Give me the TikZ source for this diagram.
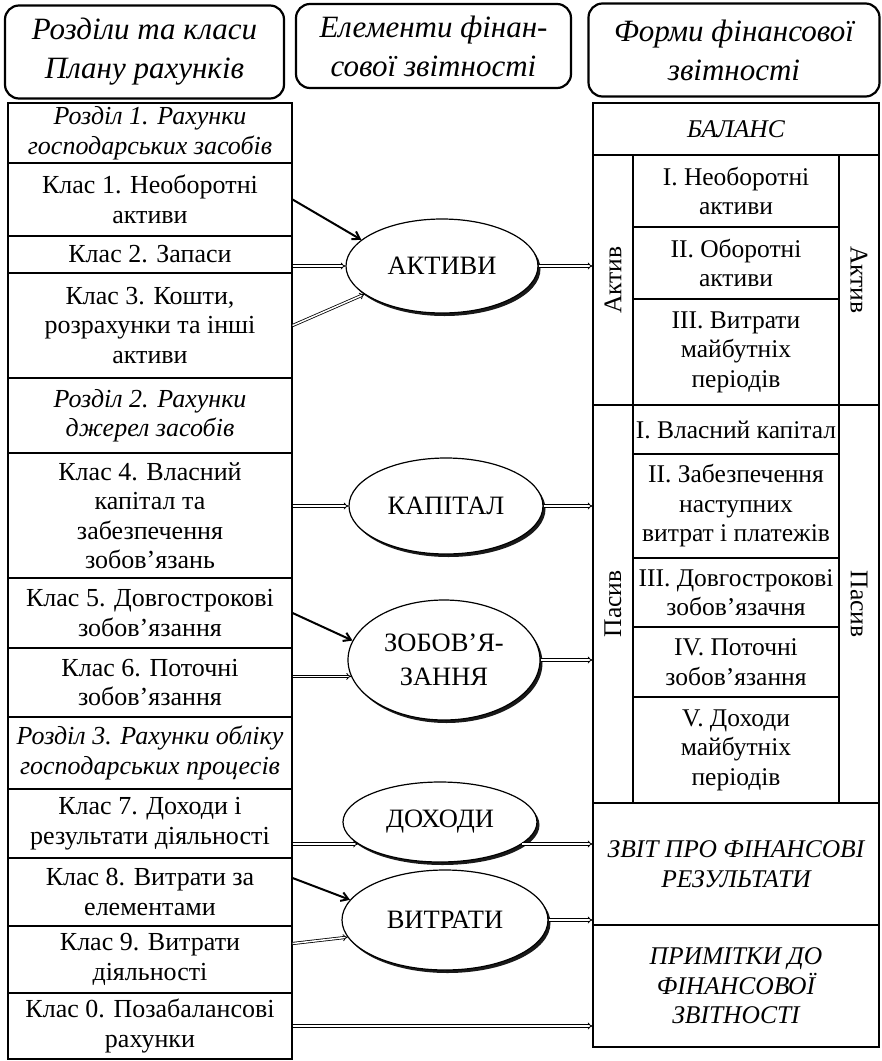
\documentclass[tikz,border=0pt]{standalone}
\usepackage{fontspec}
\setmainfont{Liberation Serif}
\usetikzlibrary{arrows.meta,shadows,shapes.geometric}
\newcommand\bodyfs{\fontsize{26}{29.5}\selectfont}
\newcommand\rightfs{\fontsize{25.5}{29.5}\selectfont}
\newcommand\headfs{\fontsize{31}{39}\selectfont\itshape}
\newcommand\ellfs{\fontsize{26.5}{34}\selectfont}
\tikzset{
  wh/.style 2 args={minimum width=#1pt, minimum height=#2pt},
  cell/.style={draw, line width=1.2pt, align=center, inner sep=0pt, font=\bodyfs},
  icell/.style={cell, font=\bodyfs\itshape},
  rcell/.style={cell, font=\rightfs},
  ricell/.style={cell, font=\rightfs\itshape},
  head/.style={draw, line width=2.2pt, rounded corners=14pt, align=center, font=\headfs, inner sep=0pt},
  elem/.style={ellipse, draw, line width=1.2pt, fill=white, font=\ellfs, inner sep=0pt, align=center,
    drop shadow={shadow xshift=2.5pt, shadow yshift=-3pt, fill=black, opacity=0.9}},
  dbl/.style={double, double distance=1.5pt, line width=0.8pt, -{Implies}},
  thk/.style={line width=2pt, -{Straight Barb[length=7pt,width=9pt]}},
  side/.style={font=\rightfs, inner sep=0pt},
}
\begin{document}
\begin{tikzpicture}[x=1pt, y=-1pt]
\useasboundingbox (0,0) rectangle (882,1061);
% headers
\node[head, wh={279}{93}] (h1) at (144.5,52) {Розділи та класи\\Плану рахунків};
\node[head, wh={275}{84}] (h2) at (433.5,46) {Елементи фінан-\\сової звітності};
\node[head, wh={291}{93}] (h3) at (734,50) {Форми фінансової\\звітності};
% left column
\node[icell, wh={284}{60}]  (r1)  at (150,133)    {Розділ 1. Рахунки\\господарських засобів};
\node[cell,  wh={284}{73}]  (r2)  at (150,199.5)  {Клас 1. Необоротні\\активи};
\node[cell,  wh={284}{37}]  (r3)  at (150,254.5)  {Клас 2. Запаси};
\node[cell,  wh={284}{105}] (r4)  at (150,325.5)  {Клас 3. Кошти,\\розрахунки та інші\\активи};
\node[icell, wh={284}{75}]  (r5)  at (150,415.5)  {Розділ 2. Рахунки\\джерел засобів};
\node[cell,  wh={284}{125}] (r6)  at (150,515.5)  {Клас 4. Власний\\капітал та\\забезпечення\\зобов’язань};
\node[cell,  wh={284}{70}]  (r7)  at (150,613)    {Клас 5. Довгострокові\\зобов’язання};
\node[cell,  wh={284}{69}]  (r8)  at (150,682.5)  {Клас 6. Поточні\\зобов’язання};
\node[icell, wh={284}{72}]  (r9)  at (150,753)    {Розділ 3. Рахунки обліку\\господарських процесів};
\node[cell,  wh={284}{69}]  (r10) at (150,823.5)  {Клас 7. Доходи і\\результати діяльності};
\node[cell,  wh={284}{68}]  (r11) at (150,892)    {Клас 8. Витрати за\\елементами};
\node[cell,  wh={284}{67}]  (r12) at (150,959.5)  {Клас 9. Витрати\\діяльності};
\node[cell,  wh={284}{66}]  (r13) at (150,1026)   {Клас 0. Позабалансові\\рахунки};
% right column
\node[ricell, wh={286}{52}]  (bal) at (736,129) {БАЛАНС};
\node[cell, wh={40}{250}] (aL) at (613,280) {};
\node[cell, wh={40}{250}] (aR) at (859,280) {};
\node[side, rotate=90]  (aLt) at (aL) {Актив};
\node[side, rotate=-90] (aRt) at (aR) {Актив};
\node[rcell, wh={206}{72}]  (a1) at (736,191) {I. Необоротні\\активи};
\node[rcell, wh={206}{72}]  (a2) at (736,263) {II. Оборотні\\активи};
\node[rcell, wh={206}{106}] (a3) at (736,352) {III. Витрати\\майбутніх\\періодів};
\node[cell, wh={40}{398}] (pL) at (613,604) {};
\node[cell, wh={40}{398}] (pR) at (859,604) {};
\node[side, rotate=90]  (pLt) at (pL) {Пасив};
\node[side, rotate=-90] (pRt) at (pR) {Пасив};
\node[rcell, wh={206}{49}]  (p1) at (736,429.5) {I. Власний капітал};
\node[rcell, wh={206}{104}] (p2) at (736,506) {II. Забезпечення\\наступних\\витрат і платежів};
\node[rcell, wh={206}{69}]  (p3) at (736,592.5) {III. Довгострокові\\зобов’язачня};
\node[rcell, wh={206}{70}]  (p4) at (736,662) {IV. Поточні\\зобов’язання};
\node[rcell, wh={206}{106}] (p5) at (736,750) {V. Доходи\\майбутніх\\періодів};
\node[ricell, wh={286}{122}] (zvit) at (736,864) {ЗВІТ ПРО ФІНАНСОВІ\\РЕЗУЛЬТАТИ};
\node[ricell, wh={286}{122}] (prim) at (736,986) {ПРИМІТКИ ДО\\ФІНАНСОВОЇ\\ЗВІТНОСТІ};
% elements
\node[elem, wh={192}{94}]  (akt) at (442,266) {АКТИВИ};
\node[elem, wh={194}{96}]  (kap) at (446,506) {КАПІТАЛ};
\node[elem, wh={192}{120}] (zob) at (444,660) {ЗОБОВ’Я-\\ЗАННЯ};
\node[elem, wh={194}{80}]  (dox) at (440,822) {ДОХОДИ};
\node[elem, wh={206}{100}] (vit) at (445,920) {ВИТРАТИ};
% connectors
\draw[thk] (r2.east) -- (akt.162);
\draw[dbl] (akt.west -| r3.east) -- (akt.west);
\draw[dbl] (r4.east) -- (akt.200);
\draw[dbl] (akt.east) -- (akt.east -| aL.west);
\draw[dbl] (kap.west -| r6.east) -- (kap.west);
\draw[dbl] (kap.east) -- (kap.east -| pL.west);
\draw[thk] (r7.east) -- (zob.168);
\draw[dbl] (zob.190 -| r8.east) -- (zob.190);
\draw[dbl] (zob.east) -- (zob.east -| pL.west);
\draw[dbl] (dox.195 -| r10.east) -- (dox.195);
\draw[dbl] (dox.-15) -- (dox.-15 -| zvit.west);
\draw[thk] ([yshift=14pt]r11.east) -- (vit.168);
\draw[dbl] ([yshift=16pt]r12.east) -- (vit.190);
\draw[dbl] (vit.east) -- (vit.east -| zvit.west);
\draw[dbl] (r13.east) -- (r13.east -| prim.west);
\end{tikzpicture}
\end{document}
